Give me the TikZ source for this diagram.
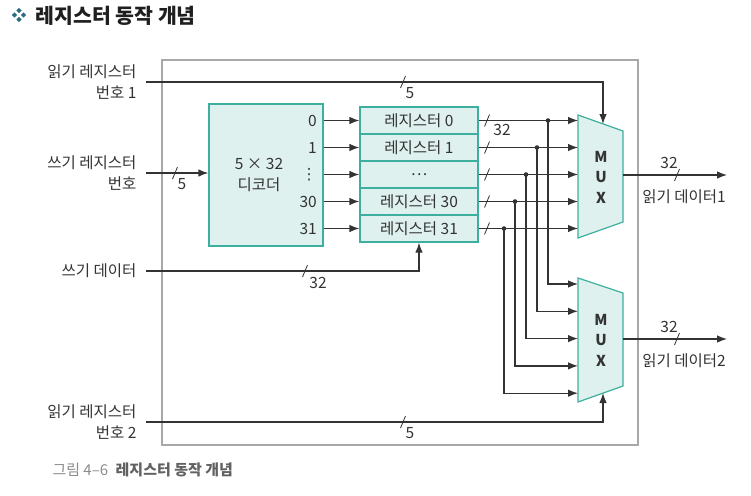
\documentclass[tikz,border=0pt]{standalone}
\usepackage{fontspec}
\setmainfont{Noto Sans CJK KR}
\newfontfamily\dejavu{DejaVu Sans}
\usetikzlibrary{arrows.meta,calc}
\definecolor{tuerkis}{HTML}{3DAF9E}
\definecolor{tuerkishell}{HTML}{DFF1EE}
\definecolor{linie}{HTML}{333333}
\definecolor{rahmen}{HTML}{A8A8A8}
\definecolor{punkt}{HTML}{2C6A80}
\tikzset{
	bus/.style={line width=1.2pt, draw=linie, ->, >={Latex[length=10pt,width=7.5pt]}},
	block/.style={draw=tuerkis, fill=tuerkishell, line width=1.2pt},
	schraeg/.style={line width=0.8pt, draw=linie},
	lbl/.style={font=\fontsize{15.5}{21}\selectfont, text=linie}
}
\newcommand{\busstrich}[2]{\draw[schraeg] (#1-2.5,#2+6) -- (#1+2.5,#2-6);}
\begin{document}
\begin{tikzpicture}[x=1pt, y=-1pt, lbl]
	\useasboundingbox (0,0) rectangle (751,495);
	
	\foreach \dx/\dy in {-4.5/0,4.5/0,0/-4.5,0/4.5}
		\fill[punkt] (19+\dx,15+\dy) +(0,-2.7) -- +(2.7,0) -- +(0,2.7) -- +(-2.7,0) -- cycle;%Titelsymbol
	\node[anchor=west, font=\fontsize{20.5}{23}\selectfont\bfseries, text=black!88] (titel) at (32,16) {레지스터 동작 개념};
	
	\draw[rahmen, line width=1.8pt] (162,60) rectangle (638,445);%Rahmen
	
	\node[block, minimum width=114pt, minimum height=142pt] (dec) at (266,175) {};%Dekoder
	\node[align=center] (dectext) at (259,175) {5 × 32\\디코더};
	
	\foreach \i/\t in {0/레지스터 0, 1/레지스터 1, 2/…, 3/레지스터 30, 4/레지스터 31}
		\node[block, minimum width=118pt, minimum height=27pt] (reg\i) at (419,120.5+27*\i) {\t};
	
	\foreach \i/\n in {0/0, 1/1, 2/{\dejavu ⋮}, 3/30, 4/31}{
		\node[anchor=east, inner sep=1pt] (dout\i) at (318,120.5+27*\i) {\n};
		\draw[bus] (dec.east |- reg\i) -- (reg\i.west);
	}
	
	\draw[block] (578,115) -- (623,131) -- (623,222) -- (578,238) -- cycle;%MUX 1
	\node[align=center, font=\fontsize{15}{20.5}\selectfont\bfseries] (mux1) at (601,177) {M\\U\\X};
	\draw[block] (578,278) -- (623,293) -- (623,386) -- (578,402) -- cycle;%MUX 2
	\node[align=center, font=\fontsize{15}{20.5}\selectfont\bfseries] (mux2) at (601,340) {M\\U\\X};
	
	\foreach \i in {0,...,4}{
		\coordinate (mux1in\i) at (578,120.5+27*\i);
		\coordinate (mux2in\i) at (578,284+27.3*\i);
		\coordinate (tap\i) at (548-11*\i,120.5+27*\i);
		\draw[bus] (reg\i.east) -- (mux1in\i);
		\draw[bus] (tap\i) |- (mux2in\i);
		\fill[linie] (tap\i) circle (2.3);
		\busstrich{487}{120.5+27*\i}
	}
	\node (w32a) at (502,130) {32};
	
	\node[anchor=east, align=right] (rr1) at (140,82) {읽기 레지스터\\번호 1};
	\coordinate (rr1start) at (146,82);
	\coordinate (mux1sel) at (603,124);
	\draw[bus] (rr1start) -| (mux1sel);%Auswahl MUX 1
	\busstrich{403}{82}
	\node (w5a) at (410,93) {5};
	
	\node[anchor=east, align=right] (wr) at (140,173) {쓰기 레지스터\\번호};
	\coordinate (wrstart) at (146,173);
	\draw[bus] (wrstart) -- (wrstart -| dec.west);
	\busstrich{175}{173}
	\node (w5b) at (182,184) {5};
	
	\node[anchor=east] (wd) at (140,271) {쓰기 데이터};
	\coordinate (wdstart) at (146,271);
	\draw[bus] (wdstart) -| (reg4.south);
	\busstrich{305}{271}
	\node (w32b) at (318,283) {32};
	
	\node[anchor=east, align=right] (rr2) at (140,422) {읽기 레지스터\\번호 2};
	\coordinate (rr2start) at (146,422);
	\coordinate (mux2sel) at (603,393);
	\draw[bus] (rr2start) -| (mux2sel);%Auswahl MUX 2
	\busstrich{403}{422}
	\node (w5c) at (410,433) {5};
	
	\coordinate (mux1out) at (623,175);
	\coordinate (rd1end) at (727,175);
	\draw[bus] (mux1out) -- (rd1end);
	\busstrich{677}{175}
	\node (w32c) at (669,163) {32};
	\node (rd1) at (684,197) {읽기 데이터1};
	
	\coordinate (mux2out) at (623,339);
	\coordinate (rd2end) at (727,339);
	\draw[bus] (mux2out) -- (rd2end);
	\busstrich{677}{339}
	\node (w32d) at (669,327) {32};
	\node (rd2) at (684,361) {읽기 데이터2};
	
	\node[anchor=west, font=\fontsize{15}{17}\selectfont] (caption) at (49,470) {\textcolor{black!45}{그림 4–6}\enspace\textcolor{black!62}{\bfseries 레지스터 동작 개념}};
\end{tikzpicture}
\end{document}
